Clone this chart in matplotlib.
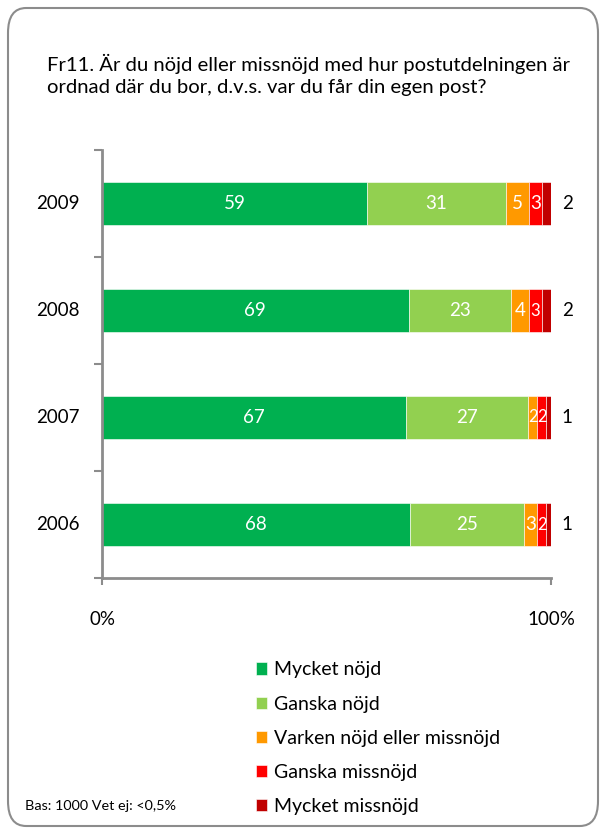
import numpy as np
import matplotlib.pyplot as plt
from matplotlib.patches import FancyBboxPatch

plt.rcParams['font.family'] = ['Lato', 'DejaVu Sans']

years = ['2009', '2008', '2007', '2006']
categories = ['Mycket nöjd', 'Ganska nöjd', 'Varken nöjd eller missnöjd',
              'Ganska missnöjd', 'Mycket missnöjd']
colors = ['#00B050', '#92D050', '#FF9900', '#FF0000', '#C00000']
values = np.array([
    [59, 31, 5, 3, 2],
    [69, 23, 4, 3, 2],
    [67, 27, 2, 2, 1],
    [68, 25, 3, 2, 1],
])
title = ('Fr11. Är du nöjd eller missnöjd med hur postutdelningen är\n'
         'ordnad där du bor, d.v.s. var du får din egen post?')
note = 'Bas: 1000 Vet ej: <0,5%'

W, H = 604, 834
fig = plt.figure(figsize=(W / 100, H / 100), dpi=100)

# rounded frame around everything
fig.patches.append(FancyBboxPatch((8 / W, 8 / H), 590 / W, 818 / H,
                                  boxstyle='round,pad=0,rounding_size=0.03',
                                  transform=fig.transFigure, fill=False,
                                  edgecolor='#8c8c8c', linewidth=1.5))

fig.text(47 / W, 1 - 54 / H, title, fontsize=14.6, va='top', ha='left',
         linespacing=1.35)

ax = fig.add_axes([102 / W, 1 - 578 / H, 449 / W, 428 / H])

shares = values / values.sum(axis=1, keepdims=True) * 100
y = np.arange(len(years))
left = np.zeros(len(years))
fs = 13.5
for j, cat in enumerate(categories):
    ax.barh(y, shares[:, j], left=left, height=0.4, color=colors[j],
            edgecolor='white', linewidth=0.4, label=cat)
    for i in range(len(years)):
        if j < len(categories) - 1:
            # narrow slices get a slightly smaller label
            size = fs if shares[i, j] >= 3 else fs - 1.5
            ax.text(left[i] + shares[i, j] / 2, y[i], str(values[i, j]),
                    color='white', ha='center', va='center', fontsize=size)
        else:
            ax.text(102.4, y[i], str(values[i, j]), color='black',
                    ha='left', va='center', fontsize=fs)
    left += shares[:, j]

ax.set_xlim(0, 100)
ax.set_ylim(len(years) - 0.5, -0.5)
ax.set_yticks(np.arange(-0.5, len(years), 1))
ax.set_yticklabels([])
for i, yr in enumerate(years):
    ax.text(-9.9, y[i], yr, ha='center', va='center', fontsize=fs)
ax.set_xticks([0, 100])
ax.set_xticklabels(['0%', '100%'], fontsize=fs)
ax.tick_params(axis='x', length=5, width=1.5, color='#8c8c8c', pad=19)
ax.tick_params(axis='y', length=6, width=1.5, color='#8c8c8c')
for s in ['top', 'right']:
    ax.spines[s].set_visible(False)
for s in ['left', 'bottom']:
    ax.spines[s].set_color('#8c8c8c')
    ax.spines[s].set_linewidth(2)

handles, labels = ax.get_legend_handles_labels()
fig.legend(handles, labels, loc='upper left',
           bbox_to_anchor=(238 / W, 1 - 644 / H), frameon=False,
           fontsize=14, handlelength=0.6, handleheight=0.6,
           handletextpad=0.35, labelspacing=0.88)

fig.text(25 / W, 1 - 806 / H, note, fontsize=10.4, va='center', ha='left')

fig.savefig('out.png', dpi=100)
